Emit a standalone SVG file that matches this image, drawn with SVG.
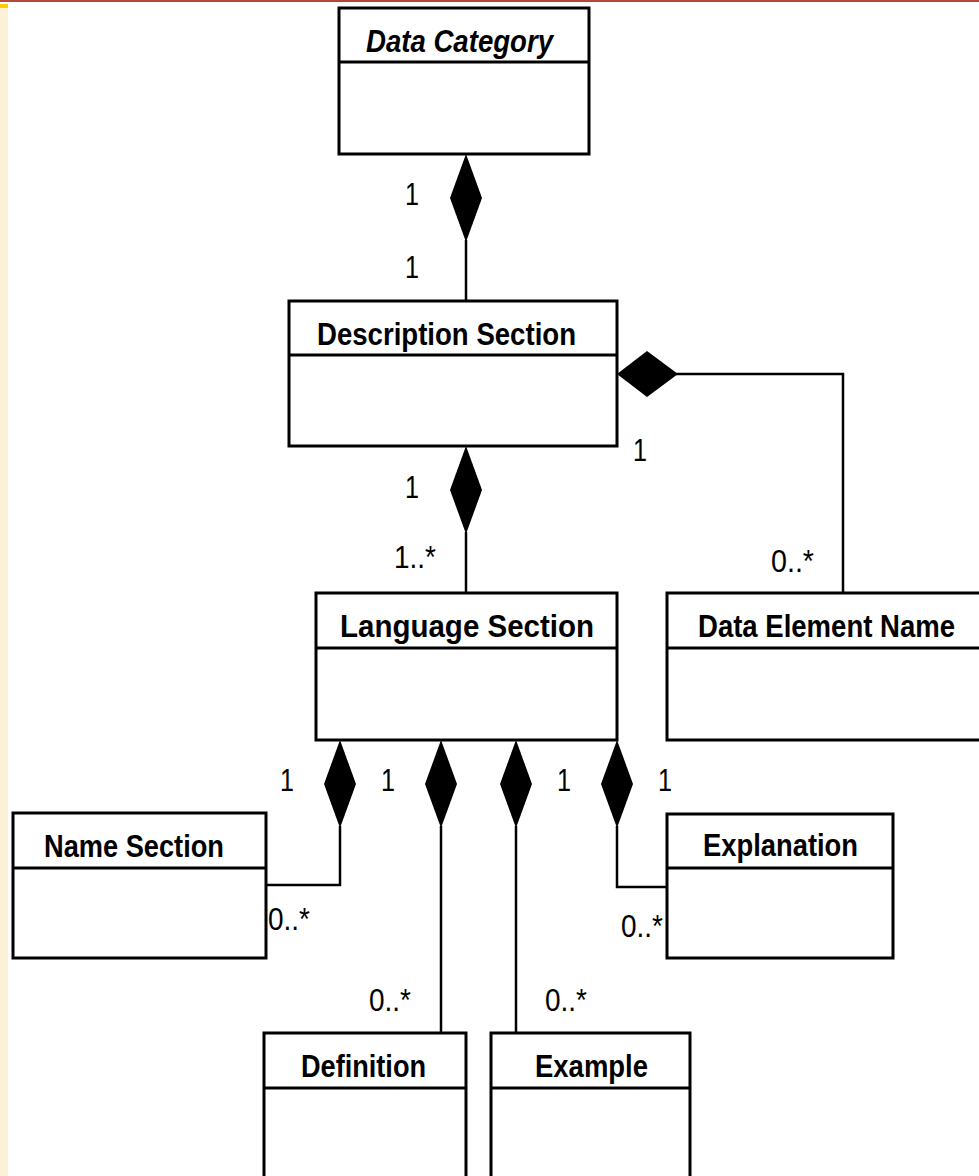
<svg xmlns="http://www.w3.org/2000/svg" width="979" height="1176" viewBox="0 0 979 1176">
<defs>
<style>
.box{fill:#fff;stroke:#000;stroke-width:3}
.div{stroke:#000;stroke-width:3}
.conn{fill:none;stroke:#000;stroke-width:2.5}
.dia{fill:#000;stroke:none}
.hd{font-family:"Liberation Sans",Arial,sans-serif;font-weight:bold;font-size:32px;fill:#000}
.lb{font-family:"Liberation Sans",Arial,sans-serif;font-size:32px;fill:#000}
</style>
</defs>
<rect x="0" y="0" width="979" height="1176" fill="#fff"/>
<rect x="0" y="8" width="8" height="1168" fill="#fdf0d9"/>
<rect x="0" y="0" width="979" height="2" fill="#b5483a"/>
<rect x="0" y="4" width="8" height="4" fill="#ffcc00"/>

<g id="connectors">
<line class="conn" x1="466" y1="240" x2="466" y2="301"/>
<polygon class="dia" points="466,154 482,198 466,242 450,198"/>
<line class="conn" x1="466" y1="532" x2="466" y2="593"/>
<polygon class="dia" points="466,446 482,490 466,534 450,490"/>
<polyline class="conn" points="676,374 843,374 843,593"/>
<polygon class="dia" points="617,374 647,351 678,374 647,397"/>
<polyline class="conn" points="340,826 340,885 266,885"/>
<polygon class="dia" points="340,740 356,784 340,828 324,784"/>
<line class="conn" x1="441" y1="826" x2="441" y2="1033"/>
<polygon class="dia" points="441,740 457,784 441,828 425,784"/>
<line class="conn" x1="516" y1="826" x2="516" y2="1033"/>
<polygon class="dia" points="516,740 532,784 516,828 500,784"/>
<polyline class="conn" points="617,826 617,887 667,887"/>
<polygon class="dia" points="617,740 633,784 617,828 601,784"/>
<text class="lb" x="405" y="205" textLength="14" lengthAdjust="spacingAndGlyphs">1</text>
<text class="lb" x="405" y="278" textLength="14" lengthAdjust="spacingAndGlyphs">1</text>
<text class="lb" x="405" y="498" textLength="14" lengthAdjust="spacingAndGlyphs">1</text>
<text class="lb" x="394" y="568" textLength="42" lengthAdjust="spacingAndGlyphs">1..*</text>
<text class="lb" x="633" y="461" textLength="14" lengthAdjust="spacingAndGlyphs">1</text>
<text class="lb" x="771" y="572" textLength="43" lengthAdjust="spacingAndGlyphs">0..*</text>
<text class="lb" x="280" y="791" textLength="14" lengthAdjust="spacingAndGlyphs">1</text>
<text class="lb" x="381" y="791" textLength="14" lengthAdjust="spacingAndGlyphs">1</text>
<text class="lb" x="557" y="791" textLength="14" lengthAdjust="spacingAndGlyphs">1</text>
<text class="lb" x="658" y="791" textLength="14" lengthAdjust="spacingAndGlyphs">1</text>
<text class="lb" x="268" y="930" textLength="42" lengthAdjust="spacingAndGlyphs">0..*</text>
<text class="lb" x="621" y="937" textLength="42" lengthAdjust="spacingAndGlyphs">0..*</text>
<text class="lb" x="369" y="1011" textLength="42" lengthAdjust="spacingAndGlyphs">0..*</text>
<text class="lb" x="545" y="1011" textLength="42" lengthAdjust="spacingAndGlyphs">0..*</text>
</g>

<g id="data-category">
<rect class="box" x="339" y="8" width="250" height="146"/>
<line class="div" x1="339" y1="62" x2="589" y2="62"/>
<text class="hd" x="366" y="52" font-style="italic" textLength="187" lengthAdjust="spacingAndGlyphs">Data Category</text>
</g>
<g id="description-section">
<rect class="box" x="289" y="301" width="328" height="145"/>
<line class="div" x1="289" y1="355" x2="617" y2="355"/>
<text class="hd" x="317" y="345" textLength="259" lengthAdjust="spacingAndGlyphs">Description Section</text>
</g>
<g id="language-section">
<rect class="box" x="316" y="593" width="301" height="147"/>
<line class="div" x1="316" y1="648" x2="617" y2="648"/>
<text class="hd" x="340" y="637" textLength="254" lengthAdjust="spacingAndGlyphs">Language Section</text>
</g>
<g id="data-element-name">
<rect class="box" x="667" y="593" width="316" height="147"/>
<line class="div" x1="667" y1="648" x2="983" y2="648"/>
<text class="hd" x="698" y="637" textLength="257" lengthAdjust="spacingAndGlyphs">Data Element Name</text>
</g>
<g id="name-section">
<rect class="box" x="13" y="813" width="253" height="145"/>
<line class="div" x1="13" y1="868" x2="266" y2="868"/>
<text class="hd" x="44" y="857" textLength="180" lengthAdjust="spacingAndGlyphs">Name Section</text>
</g>
<g id="explanation">
<rect class="box" x="667" y="814" width="226" height="144"/>
<line class="div" x1="667" y1="868" x2="893" y2="868"/>
<text class="hd" x="703" y="856" textLength="155" lengthAdjust="spacingAndGlyphs">Explanation</text>
</g>
<g id="definition">
<rect class="box" x="264" y="1033" width="202" height="160"/>
<line class="div" x1="264" y1="1088" x2="466" y2="1088"/>
<text class="hd" x="301" y="1077" textLength="125" lengthAdjust="spacingAndGlyphs">Definition</text>
</g>
<g id="example">
<rect class="box" x="491" y="1033" width="199" height="160"/>
<line class="div" x1="491" y1="1088" x2="690" y2="1088"/>
<text class="hd" x="535" y="1077" textLength="113" lengthAdjust="spacingAndGlyphs">Example</text>
</g>
</svg>
